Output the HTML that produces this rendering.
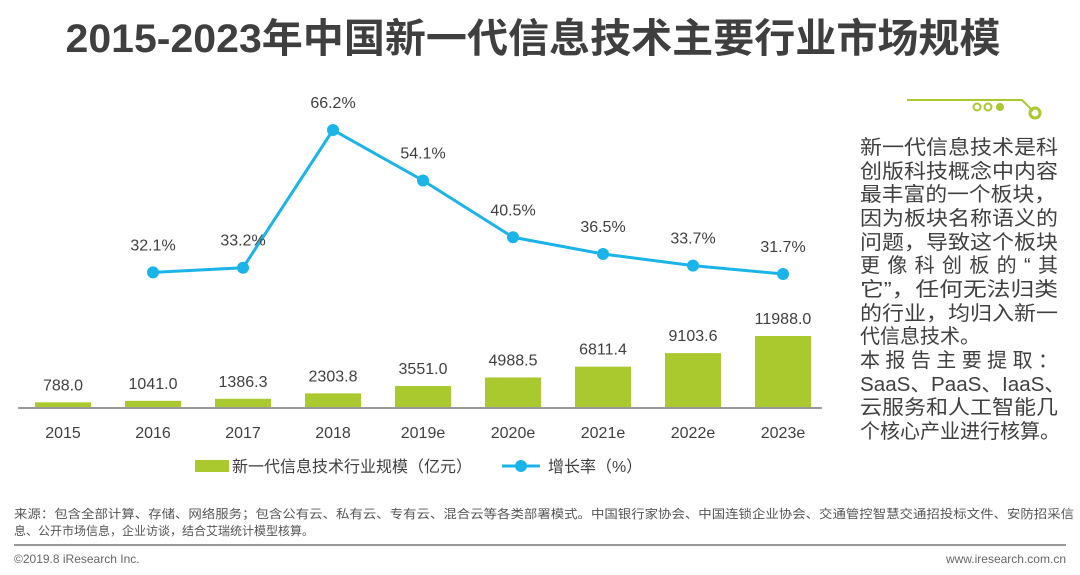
<!DOCTYPE html>
<html><head><meta charset="utf-8"><style>
html,body{margin:0;padding:0;background:#fff;width:1080px;height:575px;overflow:hidden}
svg{display:block;font-family:"Liberation Sans","Noto Sans CJK SC",sans-serif}
</style></head><body>
<svg id="c" width="1080" height="575" viewBox="0 0 1080 575">
<text x="533" y="52" text-anchor="middle" font-size="40" font-weight="bold" fill="#3f3f3f" textLength="935" lengthAdjust="spacingAndGlyphs">2015-2023年中国新一代信息技术主要行业市场规模</text>
<g id="plot"></g>
<g>
<polyline points="907,100 1022,100 1033,111" fill="none" stroke="#a9c92e" stroke-width="2"/>
<circle cx="977" cy="107" r="3.5" fill="none" stroke="#a9c92e" stroke-width="2"/>
<circle cx="988" cy="107" r="3.5" fill="none" stroke="#a9c92e" stroke-width="2"/>
<circle cx="1000" cy="107" r="4" fill="#a9c92e"/>
<circle cx="1035" cy="113" r="5" fill="none" stroke="#a9c92e" stroke-width="3"/>
</g>
<g font-size="20" fill="#404040">
<text x="860" y="154" textLength="198" lengthAdjust="spacingAndGlyphs">新一代信息技术是科</text>
<text x="860" y="178" textLength="198" lengthAdjust="spacingAndGlyphs">创版科技概念中内容</text>
<text x="860" y="201" textLength="196" lengthAdjust="spacingAndGlyphs">最丰富的一个板块，</text>
<text x="860" y="225" textLength="198" lengthAdjust="spacingAndGlyphs">因为板块名称语义的</text>
<text x="860" y="249" textLength="198" lengthAdjust="spacingAndGlyphs">问题，导致这个板块</text>
<text x="860" y="272" textLength="198">更像科创板的“其</text>
<text x="860" y="296" textLength="198" lengthAdjust="spacingAndGlyphs">它”，任何无法归类</text>
<text x="860" y="320" textLength="198" lengthAdjust="spacingAndGlyphs">的行业，均归入新一</text>
<text x="860" y="343">代信息技术。</text>
<text x="860" y="367" textLength="198">本报告主要提取：</text>
<text x="860" y="391" textLength="205" lengthAdjust="spacingAndGlyphs">SaaS、PaaS、IaaS、</text>
<text x="860" y="414" textLength="198" lengthAdjust="spacingAndGlyphs">云服务和人工智能几</text>
<text x="860" y="438" textLength="200" lengthAdjust="spacingAndGlyphs">个核心产业进行核算。</text>
</g>
<g>
<rect x="195" y="460" width="34" height="12" fill="#a9c92e"/>
<text x="232" y="472" font-size="16" fill="#404040">新一代信息技术行业规模（亿元）</text>
<line x1="502" y1="466" x2="540" y2="466" stroke="#1ab4e8" stroke-width="3"/>
<circle cx="521" cy="466" r="6" fill="#1ab4e8"/>
<text x="548" y="472" font-size="16" fill="#404040">增长率（%）</text>
</g>
<g font-size="12" fill="#555">
<text x="14" y="518" textLength="1060" lengthAdjust="spacingAndGlyphs">来源：包含全部计算、存储、网络服务；包含公有云、私有云、专有云、混合云等各类部署模式。中国银行家协会、中国连锁企业协会、交通管控智慧交通招投标文件、安防招采信</text>
<text x="14" y="535">息、公开市场信息，企业访谈，结合艾瑞统计模型核算。</text>
</g>
<line x1="14" y1="545" x2="1066" y2="545" stroke="#999" stroke-width="2"/>
<text x="14" y="563" font-size="12" fill="#666">©2019.8 iResearch Inc.</text>
<text x="1066" y="563" font-size="12" fill="#666" text-anchor="end">www.iresearch.com.cn</text>
</svg>
<script>
const categories=["2015","2016","2017","2018","2019e","2020e","2021e","2022e","2023e"];
const marketSize=[788.0,1041.0,1386.3,2303.8,3551.0,4988.5,6811.4,9103.6,11988.0];
const growthRate=[null,32.1,33.2,66.2,54.1,40.5,36.5,33.7,31.7];
const NS="http://www.w3.org/2000/svg";
const plot=document.getElementById('plot');
const x0=63,step=90,baseY=407;
const xPos=i=>x0+i*step;
const yBar=v=>baseY-v*(71/11988);
const yRate=r=>274-(r-31.7)*(144/34.5);
function mk(t,a){const e=document.createElementNS(NS,t);for(const k in a)e.setAttribute(k,a[k]);plot.appendChild(e);return e;}
categories.forEach((c,i)=>{
  const cx=xPos(i),top=yBar(marketSize[i]);
  const r=mk('rect',{x:cx-28,y:top,width:56,height:baseY-top,fill:'#a9c92e'});
  
  
  const l=mk('text',{x:cx,y:top-12,'text-anchor':'middle','font-size':16,fill:'#404040'});
  l.textContent=marketSize[i].toFixed(1);
  
  
  const t=mk('text',{x:cx,y:438,'text-anchor':'middle','font-size':16,fill:'#404040'});
  t.textContent=c;
  
  
});
const ax=mk('line',{x1:18,y1:baseY+1,x2:822,y2:baseY+1,stroke:'#999','stroke-width':2});


let pts=[];
growthRate.forEach((r,i)=>{if(r!=null)pts.push(xPos(i)+','+yRate(r));});
const pl=mk('polyline',{points:pts.join(' '),fill:'none',stroke:'#1ab4e8','stroke-width':3});


growthRate.forEach((r,i)=>{
  if(r==null)return;
  const p=mk('circle',{cx:xPos(i),cy:yRate(r),r:6,fill:'#1ab4e8'});
  
  
  const t=mk('text',{x:xPos(i),y:yRate(r)-22,'text-anchor':'middle','font-size':16,fill:'#404040'});
  t.textContent=r.toFixed(1)+'%';
  
  
});
</script>
</body></html>
